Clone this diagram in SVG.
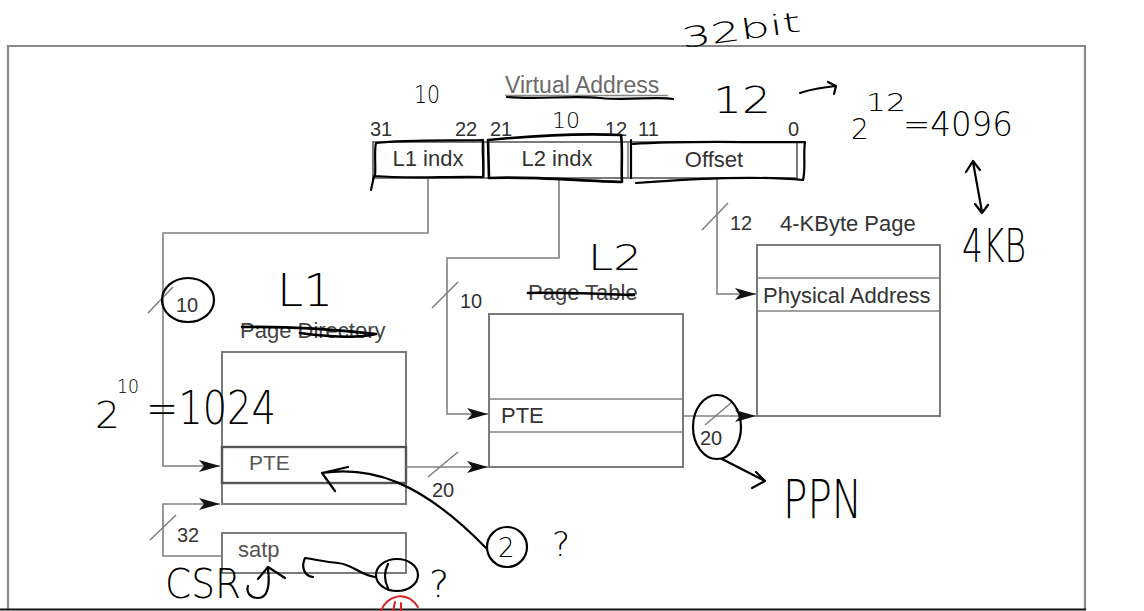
<svg xmlns="http://www.w3.org/2000/svg" width="1144" height="611" viewBox="0 0 1144 611">
<defs>
<style>
.ln{stroke:#808080;stroke-width:1.6;fill:none}
.bx{stroke:#7a7a7a;stroke-width:2;fill:#fff}
.t{font-family:"Liberation Sans",Arial,sans-serif;fill:#333;font-size:22px}
.n{font-size:20px}
.hw{fill:none;stroke:#000;stroke-width:2.2;stroke-linecap:round;stroke-linejoin:round}
.ht{font-family:"DejaVu Sans","Liberation Sans",sans-serif;font-weight:200;fill:#000}
.hr{fill:none;stroke:#e02020;stroke-width:2;stroke-linecap:round}
</style>
<marker id="ah" markerUnits="userSpaceOnUse" markerWidth="22" markerHeight="12" refX="21" refY="6" orient="auto">
<path d="M0,0 L21,6 L0,12 L5,6 z" fill="#111"/>
</marker>
</defs>
<rect width="1144" height="611" fill="#fff"/>
<g id="frame">
<path d="M8,609 V46 H1085 V609" fill="none" stroke="#888" stroke-width="2.2"/>
<line x1="0" y1="609.5" x2="1086" y2="609.5" stroke="#111" stroke-width="2"/>
</g>
<g id="virtual-address">
<text class="t" x="505" y="93" style="fill:#6a6a6a;font-size:23px">Virtual Address</text>
<line x1="505" y1="95.5" x2="668" y2="95.5" stroke="#888" stroke-width="1.5"/>
<text class="t n" x="370" y="136">31</text>
<text class="t n" x="455" y="136">22</text>
<text class="t n" x="490" y="136">21</text>
<text class="t n" x="605" y="136">12</text>
<text class="t n" x="638" y="136">11</text>
<text class="t n" x="788" y="136">0</text>
<rect class="bx" x="373" y="142" width="424" height="36"/>
<line class="ln" x1="484" y1="142" x2="484" y2="178"/>
<line class="ln" x1="628" y1="142" x2="628" y2="178"/>
<text class="t" x="428" y="166" text-anchor="middle">L1 indx</text>
<text class="t" x="557" y="166" text-anchor="middle">L2 indx</text>
<text class="t" x="714" y="167" text-anchor="middle">Offset</text>
</g>
<g id="page-directory">
<text class="t" x="240" y="338" style="fill:#444">Page Directory</text>
<rect class="bx" x="222" y="352" width="184" height="152"/>
<rect x="222" y="447" width="184" height="36" fill="none" stroke="#555" stroke-width="2.4"/>
<text class="t" x="249" y="470" style="font-size:21px;fill:#555">PTE</text>
</g>
<g id="satp">
<rect class="bx" x="222" y="533" width="184" height="40"/>
<text class="t" x="238" y="557" style="fill:#555">satp</text>
</g>
<g id="page-table">
<text class="t" x="528" y="300" style="fill:#444">Page Table</text>
<rect class="bx" x="489" y="314" width="194" height="153"/>
<line class="ln" x1="489" y1="399" x2="683" y2="399"/>
<line class="ln" x1="489" y1="432" x2="683" y2="432"/>
<text class="t" x="501" y="423">PTE</text>
</g>
<g id="page-4k">
<text class="t" x="780" y="231">4-KByte Page</text>
<rect class="bx" x="757" y="245" width="183" height="171"/>
<line class="ln" x1="757" y1="278" x2="940" y2="278"/>
<line class="ln" x1="757" y1="311" x2="940" y2="311"/>
<text class="t" x="763" y="303">Physical Address</text>
</g>
<g id="connectors">
<path class="ln" d="M428,178 V233 H163 V466 H220" marker-end="url(#ah)"/>
<path class="ln" d="M559,178 V258 H447 V414 H488" marker-end="url(#ah)"/>
<path class="ln" d="M717,178 V294 H756" marker-end="url(#ah)"/>
<path class="ln" d="M406,467 H488" marker-end="url(#ah)"/>
<path class="ln" d="M683,416 H756" marker-end="url(#ah)"/>
<path class="ln" d="M222,556 H163 V504 H220" marker-end="url(#ah)"/>
<line class="ln" x1="148" y1="313" x2="173" y2="287"/>
<line class="ln" x1="432" y1="308" x2="458" y2="282"/>
<line class="ln" x1="702" y1="230" x2="728" y2="203"/>
<line class="ln" x1="428" y1="477" x2="458" y2="452"/>
<line class="ln" x1="150" y1="540" x2="176" y2="515"/>
<line class="ln" x1="705" y1="425" x2="732" y2="402"/>
<text class="t n" x="176" y="312">10</text>
<text class="t n" x="460" y="308">10</text>
<text class="t n" x="730" y="230">12</text>
<text class="t n" x="432" y="497">20</text>
<text class="t n" x="177" y="542">32</text>
<text class="t n" x="700" y="445">20</text>
</g>
<g id="handwriting">
<text class="ht" x="683" y="48" font-size="28" textLength="120" lengthAdjust="spacingAndGlyphs" transform="rotate(-8 683 48)">32bit</text>
<text class="ht" x="414" y="103" font-size="24" textLength="26" lengthAdjust="spacingAndGlyphs">10</text>
<text class="ht" x="552" y="128" font-size="22" textLength="28" lengthAdjust="spacingAndGlyphs">10</text>
<text class="ht" x="713" y="113" font-size="38" textLength="58" lengthAdjust="spacingAndGlyphs">12</text>
<path class="hw" d="M800,93 C815,88 825,87 836,86 M828,82 L836,86 L834,94"/>
<text class="ht" x="851" y="139" font-size="28">2</text>
<text class="ht" x="866" y="111" font-size="24" textLength="40" lengthAdjust="spacingAndGlyphs">12</text>
<text class="ht" x="903" y="136" font-size="34" textLength="110" lengthAdjust="spacingAndGlyphs">=4096</text>
<path class="hw" d="M973,162 L982,212 M966,172 L973,161 L980,170 M975,204 L982,213 L988,205"/>
<text class="ht" x="962" y="262" font-size="46" textLength="64" lengthAdjust="spacingAndGlyphs">4KB</text>
<path class="hw" d="M376,143 C410,139 450,141 483,140 C482,152 484,165 483,177 C450,176 410,179 375,176 C376,165 374,150 376,143 M374,176 L371,190"/>
<path class="hw" d="M488,140 C530,136 580,133 621,135 C623,150 621,168 622,182 C580,181 530,176 489,178 Z" style="stroke-width:2.6"/>
<path class="hw" d="M631,140 L631,178 M633,144 C690,140 750,143 805,142 C803,155 806,168 803,180 C760,176 700,178 636,183"/>
<path class="hw" d="M507,97 C540,100 570,95 600,98 C630,101 655,96 673,99"/>
<ellipse class="hw" cx="188" cy="300" rx="26" ry="22"/>
<text class="ht" x="277" y="306" font-size="44" textLength="56" lengthAdjust="spacingAndGlyphs">L1</text>
<path class="hw" d="M242,327 C290,326 340,330 376,334 C360,338 330,337 300,333" style="stroke-width:2.6"/>
<text class="ht" x="95" y="428" font-size="38" textLength="25" lengthAdjust="spacingAndGlyphs">2</text>
<text class="ht" x="117" y="393" font-size="20" textLength="22" lengthAdjust="spacingAndGlyphs">10</text>
<text class="ht" x="146" y="424" font-size="46" textLength="130" lengthAdjust="spacingAndGlyphs">=1024</text>
<text class="ht" x="588" y="270" font-size="36" textLength="54" lengthAdjust="spacingAndGlyphs">L2</text>
<path class="hw" d="M528,293 C560,292 600,294 634,295" style="stroke-width:2.6"/>
<ellipse class="hw" cx="717" cy="427" rx="24" ry="32"/>
<path class="hw" d="M722,459 L765,481 M756,472 L765,481 L752,488"/>
<text class="ht" x="783" y="518" font-size="54" textLength="79" lengthAdjust="spacingAndGlyphs">PPN</text>
<path class="hw" d="M322,473 C370,466 420,480 486,548 M322,473 L348,467 M322,473 L335,491"/>
<circle class="hw" cx="507" cy="547" r="20"/>
<text class="ht" x="498" y="557" font-size="26">2</text>
<text class="ht" x="552" y="556" font-size="34">?</text>
<ellipse class="hw" cx="397" cy="575" rx="21" ry="16"/>
<path class="hw" d="M388,564 C384,572 384,580 388,588"/>
<text class="ht" x="429" y="597" font-size="38">?</text>
<path class="hw" d="M375,577 C360,575 352,564 338,563 C326,562 318,560 305,558 C301,567 304,576 313,577"/>
<path class="hr" d="M381,611 C386,596 406,589 418,607 M393,611 L395,602 M401,611 L401,603"/>
<text class="ht" x="165" y="598" font-size="40" textLength="76" lengthAdjust="spacingAndGlyphs">CSR</text>
<path class="hw" d="M268,569 C270,585 268,598 258,598 C250,598 246,592 248,586 M258,579 L268,567 L285,578"/>
</g>
</svg>
